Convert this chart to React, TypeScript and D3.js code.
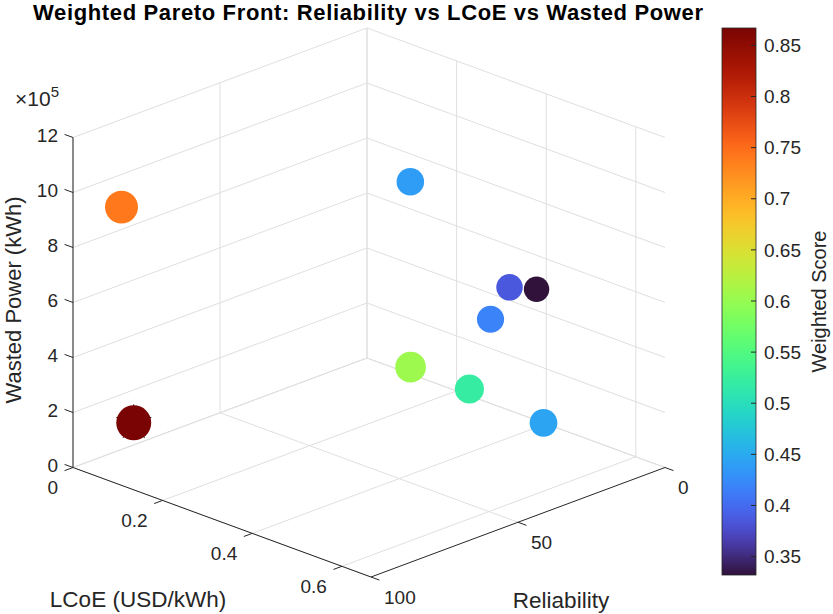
import React from 'react';
import * as d3 from 'd3';

// ---- data ----
const lcoe = [0.082, 0.388, 0.486, 0.547, 0.42, 0.342, 0.424, 0.51, 0.066];
const reliability = [96.0, 44.4, 25.6, 25.7, 22.0, 37.3, 29.8, 17.7, 89.4];
const wasted = [9.8e5, 10.5e5, 6.5e5, 6.8e5, 4.8e5, 3.2e5, 2.6e5, 1.4e5, 1.6e5];
const score = [0.74, 0.439, 0.386, 0.332, 0.418, 0.605, 0.52, 0.445, 0.867];
const bestIndex = 8;

const lcoeTicks = [0, 0.2, 0.4, 0.6];
const lcoeTickLabels = ['0', '0.2', '0.4', '0.6'];
const relTicks = [0, 50, 100];
const wastedTicks = [0, 2e5, 4e5, 6e5, 8e5, 10e5, 12e5];
const wastedTickLabels = ['0', '2', '4', '6', '8', '10', '12'];
const scoreTicks = [0.35, 0.4, 0.45, 0.5, 0.55, 0.6, 0.65, 0.7, 0.75, 0.8, 0.85];
const scoreTickLabels = ['0.35', '0.4', '0.45', '0.5', '0.55', '0.6', '0.65', '0.7', '0.75', '0.8', '0.85'];

const titleText = 'Weighted Pareto Front: Reliability vs LCoE vs Wasted Power';
const xLabel = 'LCoE (USD/kWh)';
const yLabel = 'Reliability';
const zLabel = 'Wasted Power (kWh)';
const cLabel = 'Weighted Score';

// ---- layout ----
const W = 833;
const H = 614;
const FONT = 'Liberation Sans, Arial, Helvetica, sans-serif';
const TXT = '#262626';
const GRID = '#dfdfdf';

const O = { x: 367, y: 358 }; // LCoE=0, Rel=0, W=0
const A = { x: 298, y: 109.5 }; // full LCoE span
const B = { x: -294, y: 109.5 }; // full Reliability span
const C = { x: 0, y: -330 }; // full Wasted span

const sx = d3.scaleLinear().domain([0, 0.665]).range([0, 1]);
const sy = d3.scaleLinear().domain([0, 100]).range([0, 1]);
const sz = d3.scaleLinear().domain([0, 12e5]).range([0, 1]);

function proj(l: number, r: number, w: number): [number, number] {
  const u = sx(l), v = sy(r), t = sz(w);
  return [O.x + u * A.x + v * B.x + t * C.x, O.y + u * A.y + v * B.y + t * C.y];
}

const cmin = 0.332, cmax = 0.867;
const turboFixed = (t: number) => {
  if (t < 0.05) return d3.interpolateRgb('#30123b', d3.interpolateTurbo(0.05))(t / 0.05);
  if (t > 0.93) return d3.interpolateRgb(d3.interpolateTurbo(0.93), '#7a0403')((t - 0.93) / 0.07);
  return d3.interpolateTurbo(t);
};
const color = d3.scaleSequential(turboFixed).domain([cmin, cmax]);
const areaScale = d3.scaleLinear().domain([cmin, cmax]).range([161, 306]);

const cb = { x: 722, w: 34, top: 28, bottom: 575 };
const cbY = d3.scaleLinear().domain([cmin, cmax]).range([cb.bottom, cb.top]);

const lmax = 0.665;

function seg(p: [number, number], q: [number, number]) {
  return `M${p[0]},${p[1]}L${q[0]},${q[1]}`;
}

function starPath(cx: number, cy: number, R: number) {
  const r = R * 0.382;
  const pts: string[] = [];
  for (let i = 0; i < 10; i++) {
    const ang = -Math.PI / 2 + (i * Math.PI) / 5;
    const rad = i % 2 === 0 ? R : r;
    pts.push(`${cx + rad * Math.cos(ang)},${cy + rad * Math.sin(ang)}`);
  }
  return 'M' + pts.join('L') + 'Z';
}

export default function App() {
  const gridPaths: string[] = [];
  // wall LCoE = 0 : constant W lines across Reliability, verticals at Rel ticks
  wastedTicks.forEach((w) => gridPaths.push(seg(proj(0, 0, w), proj(0, 100, w))));
  relTicks.forEach((r) => gridPaths.push(seg(proj(0, r, 0), proj(0, r, 12e5))));
  // wall Reliability = 0 : constant W lines across LCoE, verticals at LCoE ticks
  wastedTicks.forEach((w) => gridPaths.push(seg(proj(0, 0, w), proj(lmax, 0, w))));
  lcoeTicks.forEach((l) => gridPaths.push(seg(proj(l, 0, 0), proj(l, 0, 12e5))));
  // floor
  lcoeTicks.forEach((l) => gridPaths.push(seg(proj(l, 0, 0), proj(l, 100, 0))));
  relTicks.forEach((r) => gridPaths.push(seg(proj(0, r, 0), proj(lmax, r, 0))));

  const unitL = { x: A.x / Math.hypot(A.x, A.y), y: A.y / Math.hypot(A.x, A.y) };
  const unitR = { x: B.x / Math.hypot(B.x, B.y), y: B.y / Math.hypot(B.x, B.y) };
  const TL = 9;

  const order = d3.range(score.length).sort(
    (a, b) => sx(lcoe[a]) + sy(reliability[a]) - (sx(lcoe[b]) + sy(reliability[b]))
  );

  const zAxis = seg(proj(0, 100, 0), proj(0, 100, 12e5));
  const xAxis = seg(proj(0, 100, 0), proj(lmax, 100, 0));
  const yAxis = seg(proj(lmax, 0, 0), proj(lmax, 100, 0));

  const stops = d3.range(0, 1.0001, 0.02);

  return (
    <svg width={W} height={H} style={{ position: 'absolute', left: 0, top: 0, background: '#fff' }} fontFamily={FONT}>
      <defs>
        <linearGradient id="cbgrad" x1="0" y1="1" x2="0" y2="0">
          {stops.map((s) => (
            <stop key={s} offset={s} stopColor={turboFixed(s)} />
          ))}
        </linearGradient>
      </defs>
      <rect x={0} y={0} width={W} height={H} fill="#fff" />
      {/* grid */}
      <g stroke={GRID} strokeWidth={1} fill="none">
        {gridPaths.map((d, i) => (
          <path key={i} d={d} />
        ))}
      </g>
      {/* axes */}
      <g stroke={TXT} strokeWidth={1} fill="none">
        <path d={zAxis} />
        <path d={xAxis} />
        <path d={yAxis} />
        {wastedTicks.map((w, i) => {
          const p = proj(0, 100, w);
          return <path key={'zt' + i} d={seg(p, [p[0] - unitL.x * TL, p[1] - unitL.y * TL])} />;
        })}
        {lcoeTicks.map((l, i) => {
          const p = proj(l, 100, 0);
          return <path key={'xt' + i} d={seg(p, [p[0] + unitR.x * TL, p[1] + unitR.y * TL])} />;
        })}
        {relTicks.map((r, i) => {
          const p = proj(lmax, r, 0);
          return <path key={'yt' + i} d={seg(p, [p[0] + unitL.x * TL, p[1] + unitL.y * TL])} />;
        })}
      </g>
      {/* tick labels */}
      <g fill={TXT} fontSize={19}>
        {wastedTicks.map((w, i) => {
          const p = proj(0, 100, w);
          return (
            <text key={'zl' + i} x={p[0] - 15} y={p[1] - 2} dy="0.35em" textAnchor="end">
              {wastedTickLabels[i]}
            </text>
          );
        })}
        {lcoeTicks.map((l, i) => {
          const p = proj(l, 100, 0);
          return (
            <text key={'xl' + i} x={p[0] - 15} y={p[1] + 20} dy="0.35em" textAnchor="end">
              {lcoeTickLabels[i]}
            </text>
          );
        })}
        {relTicks.map((r, i) => {
          const p = proj(lmax, r, 0);
          return (
            <text key={'yl' + i} x={p[0] + 13} y={p[1] + 20} dy="0.35em" textAnchor="start">
              {String(r)}
            </text>
          );
        })}
        <text x={15} y={106} fontSize={21}>
          ×10
          <tspan fontSize={15} dy={-9}>
            5
          </tspan>
        </text>
      </g>
      {/* axis labels */}
      <g fill={TXT} fontSize={22.5}>
        <text x={138} y={599} dy="0.35em" textAnchor="middle">
          {xLabel}
        </text>
        <text x={561} y={600} dy="0.35em" textAnchor="middle">
          {yLabel}
        </text>
        <text transform={`translate(21,300) rotate(-90)`} textAnchor="middle" fontSize={22}>
          {zLabel}
        </text>
      </g>
      {/* title */}
      <text x={368} y={20} textAnchor="middle" fontWeight="bold" fontSize={22} fill="#000" textLength={670} lengthAdjust="spacing">
        {titleText}
      </text>
      {/* points */}
      <g>
        {order.map((i) => {
          const p = proj(lcoe[i], reliability[i], wasted[i]);
          const r = Math.sqrt(areaScale(score[i]));
          return (
            <g key={'pt' + i}>
              {i === bestIndex && <path d={starPath(p[0], p[1], 19)} fill="#000" />}
              <circle cx={p[0]} cy={p[1]} r={r} fill={color(score[i])} />
            </g>
          );
        })}
      </g>
      {/* colorbar */}
      <rect x={cb.x} y={cb.top} width={cb.w} height={cb.bottom - cb.top} fill="url(#cbgrad)" stroke={TXT} strokeWidth={0.8} />
      <g stroke={TXT} strokeWidth={1}>
        {scoreTicks.map((s, i) => (
          <line key={'ct' + i} x1={cb.x + cb.w} x2={cb.x + cb.w - 5} y1={cbY(s)} y2={cbY(s)} />
        ))}
      </g>
      <g fill={TXT} fontSize={19}>
        {scoreTicks.map((s, i) => (
          <text key={'cl' + i} x={cb.x + cb.w + 8} y={cbY(s)} dy="0.35em">
            {scoreTickLabels[i]}
          </text>
        ))}
      </g>
      <text transform={`translate(826,${(cb.top + cb.bottom) / 2}) rotate(-90)`} textAnchor="middle" fontSize={20} fill={TXT}>
        {cLabel}
      </text>
    </svg>
  );
}
